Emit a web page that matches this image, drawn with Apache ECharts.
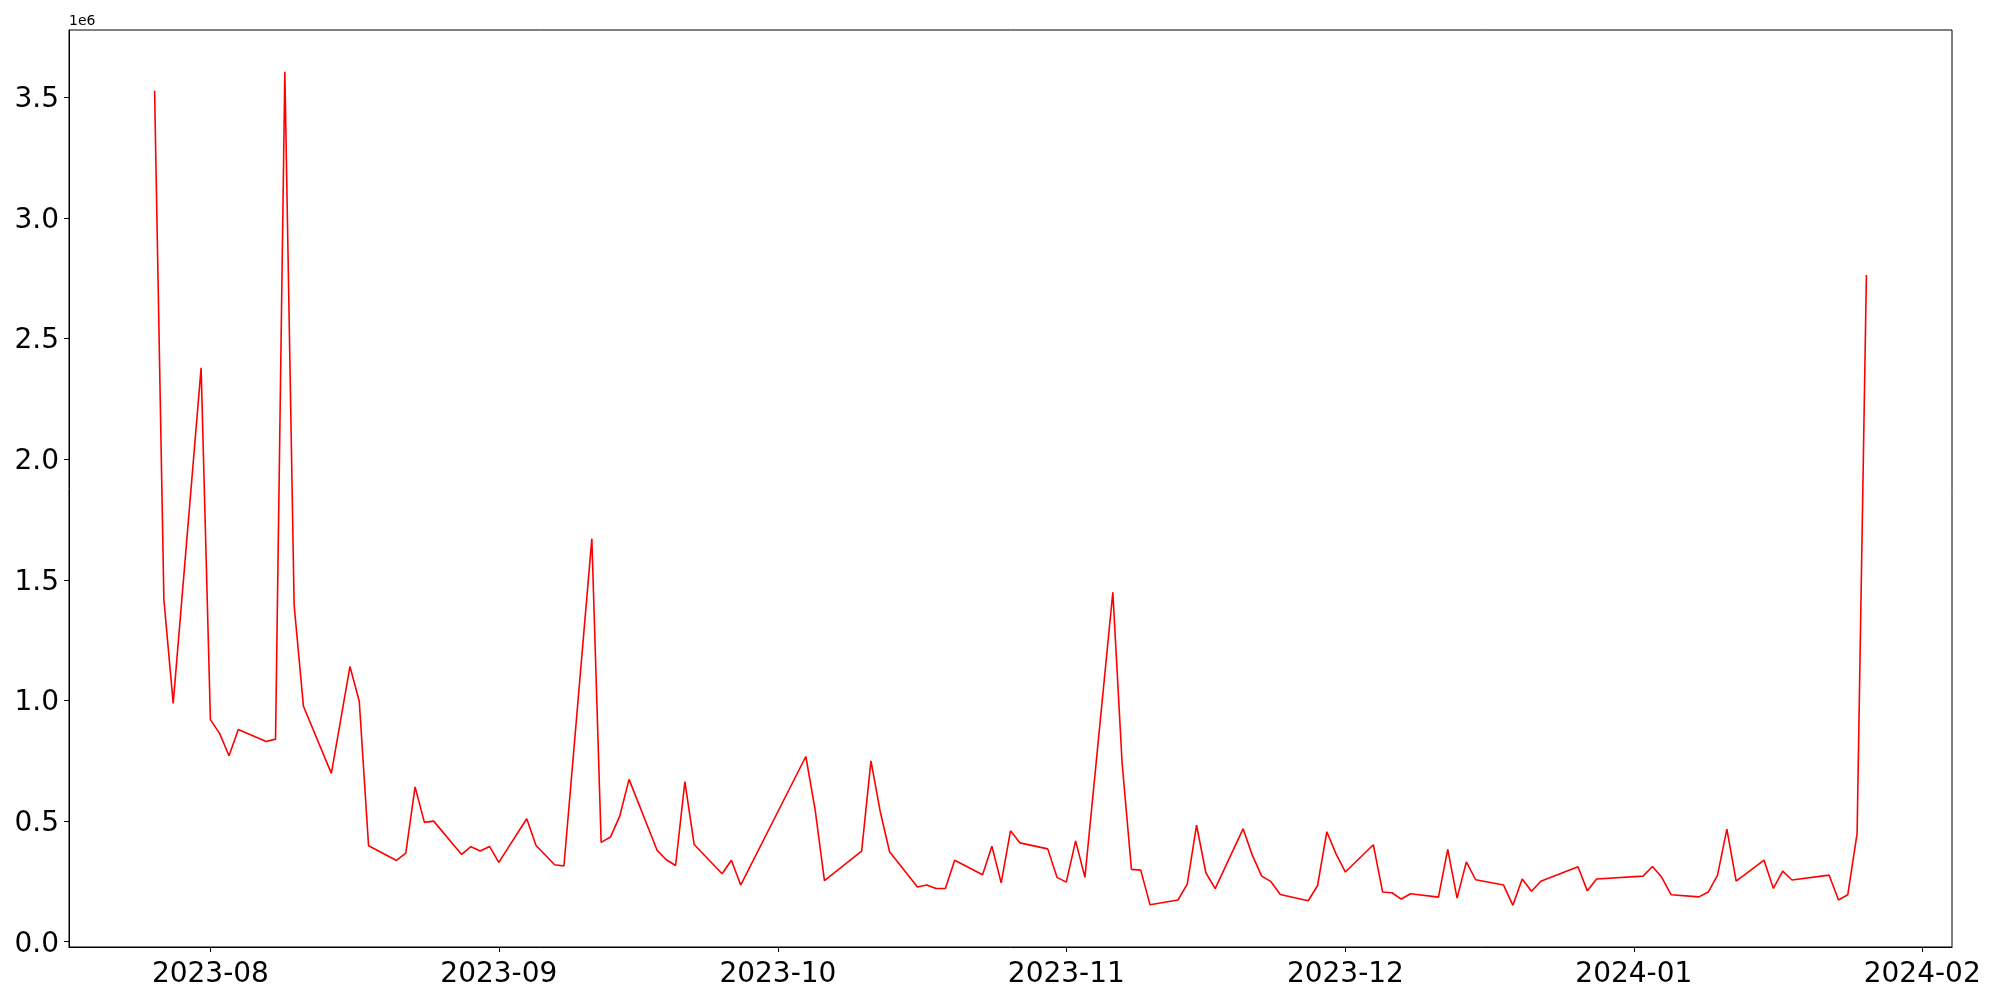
<!DOCTYPE html>
<html>
<head>
<meta charset="utf-8">
<script src="https://cdn.jsdelivr.net/npm/echarts@6/dist/echarts.min.js"></script>
<style>html,body{margin:0;padding:0;background:#fff}#chart{width:2000px;height:1000px}</style>
</head>
<body>
<div id="chart"></div>
<script>
// ---- data ----
const dates = [
 '2023-07-26','2023-07-27','2023-07-28','2023-07-31','2023-08-01','2023-08-02','2023-08-03','2023-08-04',
 '2023-08-07','2023-08-08','2023-08-09','2023-08-10','2023-08-11','2023-08-14','2023-08-16','2023-08-17',
 '2023-08-18','2023-08-21','2023-08-22','2023-08-23','2023-08-24','2023-08-25','2023-08-28','2023-08-29',
 '2023-08-30','2023-08-31','2023-09-01','2023-09-04','2023-09-05','2023-09-07','2023-09-08','2023-09-11',
 '2023-09-12','2023-09-13','2023-09-14','2023-09-15','2023-09-18','2023-09-19','2023-09-20','2023-09-21',
 '2023-09-22','2023-09-25','2023-09-26','2023-09-27','2023-10-04','2023-10-05','2023-10-06','2023-10-10',
 '2023-10-11','2023-10-12','2023-10-13','2023-10-16','2023-10-17','2023-10-18','2023-10-19','2023-10-20',
 '2023-10-23','2023-10-24','2023-10-25','2023-10-26','2023-10-27','2023-10-30','2023-10-31','2023-11-01',
 '2023-11-02','2023-11-03','2023-11-06','2023-11-07','2023-11-08','2023-11-09','2023-11-10','2023-11-13',
 '2023-11-14','2023-11-15','2023-11-16','2023-11-17','2023-11-20','2023-11-21','2023-11-22','2023-11-23',
 '2023-11-24','2023-11-27','2023-11-28','2023-11-29','2023-11-30','2023-12-01','2023-12-04','2023-12-05',
 '2023-12-06','2023-12-07','2023-12-08','2023-12-11','2023-12-12','2023-12-13','2023-12-14','2023-12-15',
 '2023-12-18','2023-12-19','2023-12-20','2023-12-21','2023-12-22','2023-12-26','2023-12-27','2023-12-28',
 '2024-01-02','2024-01-03','2024-01-04','2024-01-05','2024-01-08','2024-01-09','2024-01-10','2024-01-11',
 '2024-01-12','2024-01-15','2024-01-16','2024-01-17','2024-01-18','2024-01-22','2024-01-23','2024-01-24',
 '2024-01-25','2024-01-26'
];
const volumes = [
 3528000,1418000,988000,2379000,921000,863000,771000,880000,
 830000,840000,3607000,1395000,976000,698000,1141000,997000,
 398000,337000,367000,642000,495000,500000,362000,394000,
 376000,395000,329000,510000,399000,319000,314000,1671000,
 412000,434000,521000,673000,380000,340000,316000,664000,
 403000,282000,338000,235000,768000,548000,253000,376000,
 750000,539000,373000,227000,235000,221000,221000,338000,
 278000,396000,244000,460000,410000,385000,267000,247000,
 418000,267000,1449000,739000,300000,297000,153000,173000,
 239000,483000,286000,220000,468000,358000,272000,249000,
 196000,170000,232000,456000,363000,289000,402000,206000,
 203000,177000,199000,185000,383000,181000,331000,257000,
 235000,151000,260000,209000,251000,311000,211000,260000,
 272000,312000,267000,195000,186000,206000,276000,467000,
 251000,338000,221000,293000,256000,276000,173000,195000,
 449000,2764000
];
const yTickValues = [0, 500000, 1000000, 1500000, 2000000, 2500000, 3000000, 3500000];
const xTickDates = ['2023-08-01','2023-09-01','2023-10-01','2023-11-01','2023-12-01','2024-01-01','2024-02-01'];
const yOffsetText = '1e6';

// ---- build ----
function ts(s){const p=s.split('-').map(Number);return Date.UTC(p[0],p[1]-1,p[2]);}
const seriesData = dates.map((d,i)=>[ts(d), volumes[i]]);
const xs = seriesData.map(p=>p[0]);
const xMin0 = Math.min(...xs), xMax0 = Math.max(...xs);
const xPad = (xMax0 - xMin0) * 0.05;
const yMin0 = Math.min(...volumes), yMax0 = Math.max(...volumes);
const yPad = (yMax0 - yMin0) * 0.05;
const xTickTs = xTickDates.map(ts);

const FONT = 'DejaVu Sans';
const chart = echarts.init(document.getElementById('chart'), null, {renderer:'canvas'});
chart.setOption({
  animation: false,
  backgroundColor: '#ffffff',
  grid: {left: 69, right: 48, top: 30, bottom: 53, show: true, borderColor: '#000', borderWidth: 1, backgroundColor: 'transparent'},
  xAxis: {
    type: 'value',
    min: xMin0 - xPad,
    max: xMax0 + xPad,
    axisLine: {show: true, onZero: false, lineStyle: {color: '#000', width: 1}},
    axisTick: {show: true, length: 5, inside: false, lineStyle: {color: '#000', width: 1}, customValues: xTickTs},
    axisLabel: {
      show: true, margin: 14, color: '#000', fontFamily: FONT, fontSize: 28,
      customValues: xTickTs,
      formatter: v => new Date(v).toISOString().slice(0,7)
    },
    splitLine: {show: false}
  },
  yAxis: {
    type: 'value',
    min: yMin0 - yPad,
    max: yMax0 + yPad,
    axisLine: {show: true, lineStyle: {color: '#000', width: 1}},
    axisTick: {show: true, length: 5, inside: false, lineStyle: {color: '#000', width: 1}, customValues: yTickValues},
    axisLabel: {
      show: true, margin: 10, color: '#000',
      customValues: yTickValues,
      formatter: v => '{t|' + (v/1e6).toFixed(1) + '}',
      rich: {t: {fontFamily: FONT, fontSize: 28, color: '#000', padding: [5, 0, 0, 0]}}
    },
    splitLine: {show: false}
  },
  graphic: [{
    type: 'text', left: 69, top: 14,
    style: {text: yOffsetText, font: '14px "DejaVu Sans"', fill: '#000'}
  }],
  series: [{
    type: 'line',
    data: seriesData,
    showSymbol: false,
    symbol: 'none',
    lineStyle: {color: '#ff0000', width: 1.6},
    itemStyle: {color: '#ff0000'}
  }]
});
</script>
</body>
</html>
